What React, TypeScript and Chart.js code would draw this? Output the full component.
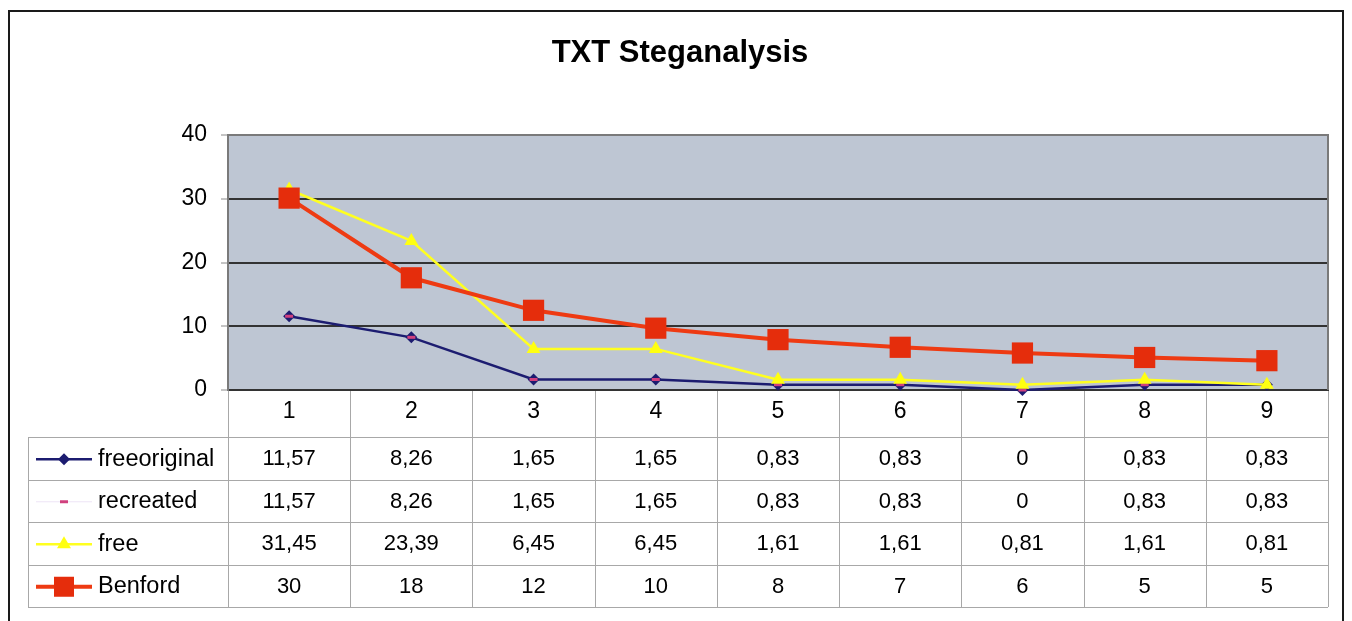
import React, { useEffect, useRef } from 'react';
import { Chart, registerables } from 'chart.js';

Chart.register(...registerables);

const FONT = "'Liberation Sans', Arial, Helvetica, sans-serif";

const titleText = 'TXT Steganalysis';
const categories = ['1', '2', '3', '4', '5', '6', '7', '8', '9'];
const yTicks = [0, 10, 20, 30, 40];

const freeOriginal = [11.57, 8.26, 1.65, 1.65, 0.83, 0.83, 0, 0.83, 0.83];
const recreated = [11.57, 8.26, 1.65, 1.65, 0.83, 0.83, 0, 0.83, 0.83];
const free = [31.45, 23.39, 6.45, 6.45, 1.61, 1.61, 0.81, 1.61, 0.81];
const benford = [30.1, 17.6, 12.5, 9.7, 7.9, 6.7, 5.8, 5.1, 4.6];

const freeOriginalLabels = ['11,57', '8,26', '1,65', '1,65', '0,83', '0,83', '0', '0,83', '0,83'];
const recreatedLabels = ['11,57', '8,26', '1,65', '1,65', '0,83', '0,83', '0', '0,83', '0,83'];
const freeLabels = ['31,45', '23,39', '6,45', '6,45', '1,61', '1,61', '0,81', '1,61', '0,81'];
const benfordLabels = ['30', '18', '12', '10', '8', '7', '6', '5', '5'];

const seriesNames = ['freeoriginal', 'recreated', 'free', 'Benford'];

export default function App() {
  const ref = useRef<HTMLCanvasElement>(null);

  useEffect(() => {
    if (!ref.current) return;

    const keys = [
      { line: '#1c1c70', lw: 2.5, marker: 'diamond', mColor: '#1c1c70', mSize: 6, labels: freeOriginalLabels },
      { line: 'rgba(235,225,245,0.9)', lw: 1, marker: 'dash', mColor: '#d0407e', mSize: 4, labels: recreatedLabels },
      { line: '#ffff20', lw: 2.5, marker: 'triangle', mColor: '#ffff10', mSize: 8, labels: freeLabels },
      { line: '#ee3a12', lw: 4, marker: 'square', mColor: '#e52d0c', mSize: 10, labels: benfordLabels },
    ];

    const drawMarker = (ctx: CanvasRenderingContext2D, kind: string, x: number, y: number, s: number, color: string) => {
      ctx.save();
      ctx.fillStyle = color;
      ctx.strokeStyle = color;
      ctx.beginPath();
      if (kind === 'diamond') {
        ctx.moveTo(x, y - s);
        ctx.lineTo(x + s, y);
        ctx.lineTo(x, y + s);
        ctx.lineTo(x - s, y);
        ctx.closePath();
        ctx.fill();
      } else if (kind === 'dash') {
        ctx.lineWidth = 3;
        ctx.moveTo(x - s, y);
        ctx.lineTo(x + s, y);
        ctx.stroke();
      } else if (kind === 'triangle') {
        ctx.moveTo(x, y - s);
        ctx.lineTo(x + s * 0.87, y + s * 0.5);
        ctx.lineTo(x - s * 0.87, y + s * 0.5);
        ctx.closePath();
        ctx.fill();
      } else {
        ctx.fillRect(x - s, y - s, 2 * s, 2 * s);
      }
      ctx.restore();
    };

    const tablePlugin = {
      id: 'tablePlugin',
      beforeDraw(chart: any) {
        const { ctx, chartArea: a } = chart;
        ctx.save();
        ctx.fillStyle = '#ffffff';
        ctx.fillRect(0, 0, chart.width, chart.height);
        ctx.fillStyle = '#bec6d3';
        ctx.fillRect(a.left, a.top, a.right - a.left, a.bottom - a.top);
        ctx.restore();
      },
      afterDraw(chart: any) {
        const { ctx, chartArea: a } = chart;
        ctx.save();
        // outer frame
        ctx.strokeStyle = '#1a1a1a';
        ctx.lineWidth = 2;
        ctx.strokeRect(1, 3, chart.width - 2, chart.height + 50);

        // title
        ctx.fillStyle = '#000';
        ctx.font = `bold 31px ${FONT}`;
        ctx.textAlign = 'center';
        ctx.textBaseline = 'middle';
        ctx.fillText(titleText, 672, 45);

        // plot border (top/right)
        ctx.strokeStyle = '#7a7a7a';
        ctx.lineWidth = 2;
        ctx.beginPath();
        ctx.moveTo(a.left, a.top);
        ctx.lineTo(a.right, a.top);
        ctx.lineTo(a.right, a.bottom);
        ctx.stroke();

        // data table
        const colW = (a.right - a.left) / categories.length;
        const tableTop = 429;
        const rowH = 42.5;
        const legendLeft = 20;
        const tableBottom = tableTop + rowH * keys.length;
        ctx.strokeStyle = '#a8a8a8';
        ctx.lineWidth = 1;
        ctx.beginPath();
        for (let i = 0; i <= categories.length; i++) {
          const x = Math.round(a.left + i * colW) + 0.5;
          ctx.moveTo(x, a.bottom + 1);
          ctx.lineTo(x, tableBottom);
        }
        ctx.moveTo(legendLeft + 0.5, tableTop);
        ctx.lineTo(legendLeft + 0.5, tableBottom);
        for (let r = 0; r <= keys.length; r++) {
          const y = Math.round(tableTop + r * rowH) + 0.5;
          ctx.moveTo(legendLeft, y);
          ctx.lineTo(a.right, y);
        }
        ctx.stroke();

        ctx.textBaseline = 'middle';
        keys.forEach((k, r) => {
          const cy = tableTop + r * rowH + rowH / 2 + 1;
          // legend key
          ctx.strokeStyle = k.line;
          ctx.lineWidth = k.lw;
          ctx.beginPath();
          ctx.moveTo(28, cy);
          ctx.lineTo(84, cy);
          ctx.stroke();
          drawMarker(ctx, k.marker, 56, cy, k.mSize, k.mColor);
          ctx.fillStyle = '#000';
          ctx.font = `23.5px ${FONT}`;
          ctx.textAlign = 'left';
          ctx.fillText(seriesNames[r], 90, cy);
          ctx.font = `22px ${FONT}`;
          ctx.textAlign = 'center';
          k.labels.forEach((t, i) => {
            ctx.fillText(t, a.left + (i + 0.5) * colW, cy);
          });
        });
        ctx.restore();
      },
    };

    const chart = new Chart(ref.current, {
      type: 'line',
      data: {
        labels: categories,
        datasets: [
          {
            label: seriesNames[0],
            data: freeOriginal,
            borderColor: keys[0].line,
            backgroundColor: keys[0].mColor,
            borderWidth: 2.5,
            pointStyle: 'rectRot',
            pointRadius: 6,
            pointBorderWidth: 0,
            order: 4,
            clip: false,
          },
          {
            label: seriesNames[1],
            data: recreated,
            borderColor: 'rgba(0,0,0,0)',
            backgroundColor: keys[1].mColor,
            pointBorderColor: keys[1].mColor,
            borderWidth: 0,
            pointStyle: 'line',
            pointRadius: 4,
            pointBorderWidth: 3,
            order: 3,
            clip: false,
          },
          {
            label: seriesNames[2],
            data: free,
            borderColor: keys[2].line,
            backgroundColor: keys[2].mColor,
            borderWidth: 2.5,
            pointStyle: 'triangle',
            pointRadius: 8,
            pointBorderWidth: 0,
            order: 2,
            clip: false,
          },
          {
            label: seriesNames[3],
            data: benford,
            borderColor: keys[3].line,
            backgroundColor: keys[3].mColor,
            borderWidth: 4,
            pointStyle: 'rect',
            pointRadius: 15,
            pointBorderWidth: 0,
            order: 1,
            clip: false,
          },
        ],
      },
      options: {
        responsive: true,
        maintainAspectRatio: false,
        animation: false,
        layout: { padding: { left: 0, top: 127, right: 16, bottom: 184 } },
        plugins: {
          legend: { display: false },
          title: { display: false },
          tooltip: { enabled: false },
        },
        scales: {
          x: {
            offset: true,
            grid: { display: false, drawTicks: false },
            border: { display: true, color: '#333', width: 2 },
            ticks: { color: '#000', font: { family: FONT, size: 23 }, padding: 8 },
            afterFit: (s: any) => { s.height = 47; },
          },
          y: {
            min: 0,
            max: 40,
            afterBuildTicks: (s: any) => { s.ticks = yTicks.map((v) => ({ value: v })); },
            grid: {
              color: (c: any) => (c.tick && c.tick.value === 40 ? '#7a7a7a' : '#333'),
              lineWidth: 2,
              tickLength: 7,
              tickColor: '#8a8a8a',
              tickWidth: 1,
            },
            border: { display: true, color: '#7a7a7a', width: 2 },
            ticks: { color: '#000', font: { family: FONT, size: 23 }, padding: 14 },
            afterFit: (s: any) => { s.width = 220; },
          },
        },
      },
      plugins: [tablePlugin],
    });

    return () => chart.destroy();
  }, []);

  return (
    <div style={{ width: 1336, height: 613, position: 'relative' }}>
      <canvas ref={ref} />
    </div>
  );
}
